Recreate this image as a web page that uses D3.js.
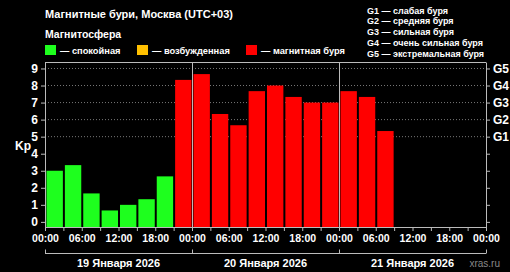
<!DOCTYPE html>
<html>
<head>
<meta charset="utf-8">
<script src="https://cdn.jsdelivr.net/npm/d3@7"></script>
<style>
  body { margin: 0; background: #000; }
  svg { display: block; font-family: "Liberation Sans", Arial, sans-serif; font-weight: bold; }
</style>
</head>
<body>
<svg id="chart" width="510" height="272"></svg>
<script>
// Kp index, one value per 3-hour slot starting 19 Jan 00:00
const kpValues = [3.0, 3.33, 1.67, 0.67, 1.0, 1.33, 2.67,
                  8.33, 8.67, 6.33, 5.67, 7.67, 8.0, 7.33, 7.0,
                  7.0, 7.67, 7.33, 5.33]
const dayLabels = ["19 Января 2026", "20 Января 2026", "21 Января 2026"]
const kpTicks = [0, 1, 2, 3, 4, 5, 6, 7, 8, 9]
const gLevels = [5, 6, 7, 8, 9]
const gLabels = ["G1", "G2", "G3", "G4", "G5"]
const gLegend = ["G1 — слабая буря", "G2 — средняя буря", "G3 — сильная буря",
                 "G4 — очень сильная буря", "G5 — экстремальная буря"]
const legendItems = [
  {label: "— спокойная", color: "#1eff1e"},
  {label: "— возбужденная", color: "#ffc000"},
  {label: "— магнитная буря", color: "#ff0000"}
]

var dims = {width: 510, height: 272, margin: {top: 62, bottom: 45, left: 45, right: 24}}
var svg = d3.select("#chart")

var xScale = d3.scaleLinear()
  .domain([0, 72])
  .range([dims.margin.left, dims.width - dims.margin.right])
var yScale = d3.scaleLinear()
  .domain([-0.3, 9.38])
  .range([dims.height - dims.margin.bottom, dims.margin.top])

var plotTop = dims.margin.top
var plotBottom = dims.height - dims.margin.bottom

function barColor(v) {
  if (v < 4) return legendItems[0].color
  if (v < 5) return legendItems[1].color
  return legendItems[2].color
}

// header
svg.append("text").text("Магнитные бури, Москва (UTC+03)")
  .attr("x", 45).attr("y", 18).attr("fill", "#fff").style("font-size", "11px")
svg.append("text").text("Магнитосфера")
  .attr("x", 45).attr("y", 38).attr("fill", "#fff").style("font-size", "10.5px")

var legendX = [45, 137, 246]
legendItems.forEach(function(d, i) {
  svg.append("rect").attr("x", legendX[i]).attr("y", 45).attr("width", 11).attr("height", 10).attr("fill", d.color)
  svg.append("text").text(d.label).attr("x", legendX[i] + 15).attr("y", 54)
    .attr("fill", "#fff").style("font-size", "9.3px")
})

svg.append("g").selectAll("text").data(gLegend).enter().append("text")
  .text(d => d).attr("x", 367).attr("y", (d, i) => 13.5 + i * 10.8)
  .attr("fill", "#fff").style("font-size", "9px")

// grid (storm levels)
svg.append("g").selectAll("line").data(gLevels).enter().append("line")
  .attr("x1", xScale(0)).attr("x2", xScale(72))
  .attr("y1", d => yScale(d)).attr("y2", d => yScale(d))
  .attr("stroke", "#777").attr("stroke-dasharray", "1,2").attr("stroke-width", 1)

// bars
var slotW = xScale(3) - xScale(0)
svg.append("g").selectAll("rect").data(kpValues).enter().append("rect")
  .attr("x", (d, i) => xScale(i * 3) + 1.5)
  .attr("width", slotW - 2)
  .attr("y", d => yScale(d))
  .attr("height", d => plotBottom - yScale(d))
  .attr("fill", d => barColor(d))

// frame and day separators
svg.append("line").attr("x1", xScale(0)).attr("x2", xScale(72))
  .attr("y1", plotTop + 0.5).attr("y2", plotTop + 0.5).attr("stroke", "#bbb")
svg.append("g").selectAll("line").data([24, 48]).enter().append("line")
  .attr("x1", d => Math.round(xScale(d)) + 0.5).attr("x2", d => Math.round(xScale(d)) + 0.5)
  .attr("y1", plotTop).attr("y2", plotBottom).attr("stroke", "#bbb")

// axes
var yAxisLeft = d3.axisLeft(yScale).tickValues(kpTicks).tickSize(4).tickSizeOuter(0)
var gL = svg.append("g").attr("transform", `translate(${xScale(0)},0)`).call(yAxisLeft)

var yAxisRight = d3.axisRight(yScale).tickValues(kpTicks).tickSize(4).tickSizeOuter(0)
  .tickFormat(d => gLevels.indexOf(d) >= 0 ? gLabels[gLevels.indexOf(d)] : "")
var gR = svg.append("g").attr("transform", `translate(${xScale(72)},0)`).call(yAxisRight)

var xAxis = d3.axisBottom(xScale).tickValues(d3.range(0, 73, 3)).tickSize(4).tickSizeOuter(0)
  .tickFormat(d => d % 6 === 0 ? String(d % 24).padStart(2, "0") + ":00" : "")
var gX = svg.append("g").attr("transform", `translate(0,${plotBottom})`).call(xAxis)

;[gL, gR, gX].forEach(function(g) {
  g.selectAll(".domain").attr("stroke", "#bbb")
  g.selectAll(".tick line").attr("stroke", "#bbb")
  g.selectAll("text").attr("fill", "#fff").style("font-family", "Liberation Sans, Arial, sans-serif")
    .style("font-weight", "bold")
})
gL.selectAll("text").style("font-size", "12px").attr("x", -7)
gR.selectAll("text").style("font-size", "12px").attr("x", 7)
gX.selectAll("text").style("font-size", "10.5px").attr("y", 8)

svg.append("text").text("Kp").attr("x", 15).attr("y", 150)
  .attr("fill", "#fff").style("font-size", "12px")

// day bracket
var bracketY = 253.5
svg.append("line").attr("x1", xScale(0)).attr("x2", xScale(72))
  .attr("y1", bracketY).attr("y2", bracketY).attr("stroke", "#bbb")
svg.append("g").selectAll("line").data([0, 24, 48, 72]).enter().append("line")
  .attr("x1", d => Math.round(xScale(d)) + 0.5).attr("x2", d => Math.round(xScale(d)) + 0.5)
  .attr("y1", bracketY - 4).attr("y2", bracketY).attr("stroke", "#bbb")
svg.append("g").selectAll("text").data(dayLabels).enter().append("text")
  .text(d => d).attr("x", (d, i) => xScale(i * 24 + 12)).attr("y", 267)
  .attr("text-anchor", "middle").attr("fill", "#fff").style("font-size", "11px")

svg.append("text").text("xras.ru").attr("x", 500).attr("y", 267).attr("text-anchor", "end")
  .attr("fill", "#888").style("font-size", "10px").style("font-weight", "normal")
</script>
</body>
</html>
